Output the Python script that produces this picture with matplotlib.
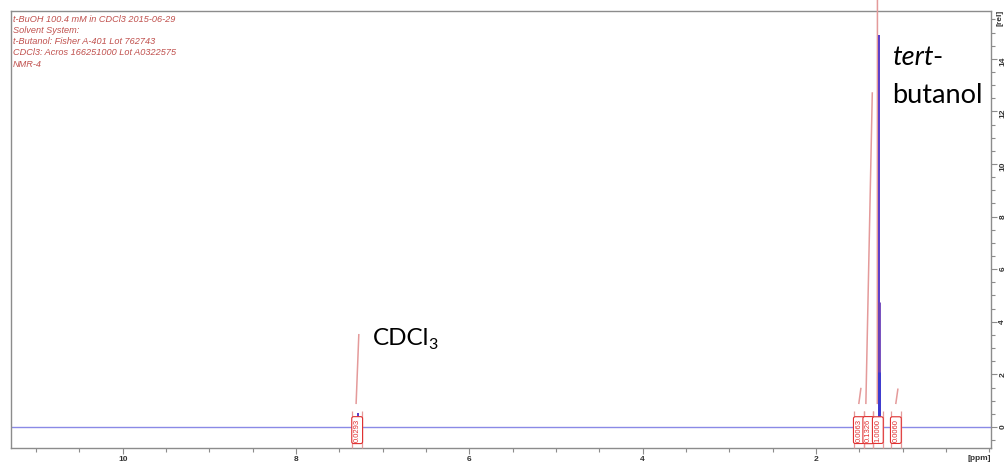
import matplotlib.pyplot as plt
from matplotlib.ticker import MultipleLocator

# header lines printed in the top-left corner
header_lines = [
    't-BuOH 100.4 mM in CDCl3 2015-06-29',
    'Solvent System:',
    't-Butanol: Fisher A-401 Lot 762743',
    'CDCl3: Acros 166251000 Lot A0322575',
    'NMR-4',
]

# peaks (ppm, relative intensity)
peak_ppm = [7.28, 1.275]
peak_height = [0.53, 14.9]

# integrals: label position, value, trace start/end (ppm)
integral_ppm = [7.295, 1.505, 1.396, 1.286, 1.078]
integral_value = [0.0293, 0.0063, 0.1326, 1.0000, 0.0060]
integral_start = [7.307, 1.505, 1.424, 1.292, 1.078]
integral_end = [7.276, 1.482, 1.350, 1.284, 1.055]
integral_offset = 0.9
integral_scale = 89

W, H = 1006, 463
fig = plt.figure(figsize=(W / 100, H / 100), dpi=100)
ax = fig.add_axes([11 / W, 1 - 448 / H, (991 - 11) / W, (448 - 11) / H])

ax.set_xlim(11.29, -0.02)
ax.set_ylim(-0.8, 15.82)

blue = '#3a3ad0'
pink = '#e49a9a'
red = '#e03030'

ax.axhline(0, color='#8a8ae6', lw=1, zorder=2)

# integral traces
for s, e, v in zip(integral_start, integral_end, integral_value):
    ax.plot([s, e], [integral_offset, integral_offset + v * integral_scale],
            color=pink, lw=1.1, clip_on=False, zorder=3)

# peaks
ax.vlines(peak_ppm, 0, peak_height, color='#5a3cc8', lw=1.4, zorder=4)
ax.vlines(peak_ppm, 0, [h * 0.32 for h in peak_height], color='#6a40b8', lw=2.0, zorder=4)
ax.vlines(peak_ppm, 0, [h * 0.14 for h in peak_height], color=blue, lw=2.0, zorder=4)

# integral labels with region legs
for p, v in zip(integral_ppm, integral_value):
    ax.vlines([p + 0.055, p - 0.055], -0.8, 0.6, color=pink, lw=0.9, clip_on=False, zorder=3)
    ax.text(p, -0.12, f'{v:.4f}', rotation=90, ha='center', va='center',
            fontsize=5.5, color=red, family='Liberation Sans', zorder=6,
            bbox=dict(boxstyle='round,pad=0.25,rounding_size=0.25', fc='white', ec=red, lw=0.8))

# axes styling
for side in ['left', 'top', 'bottom', 'right']:
    ax.spines[side].set_color('#8c8c8c')
    ax.spines[side].set_linewidth(1)

ax.yaxis.tick_right()
ax.xaxis.set_major_locator(MultipleLocator(2))
ax.xaxis.set_minor_locator(MultipleLocator(0.5))
ax.yaxis.set_major_locator(MultipleLocator(2))
ax.yaxis.set_minor_locator(MultipleLocator(0.5))
ax.set_xticks([10, 8, 6, 4, 2])
ax.tick_params(axis='both', which='both', direction='out', color='#8c8c8c', width=0.8)
ax.tick_params(axis='both', which='major', length=4)
ax.tick_params(axis='both', which='minor', length=3)
ax.tick_params(axis='x', pad=2, labelsize=6, labelcolor='#333333')
ax.tick_params(axis='y', pad=2, labelsize=6, labelcolor='#333333', labelrotation=90)
for lab in ax.get_xticklabels() + ax.get_yticklabels():
    lab.set_fontweight('bold')
    lab.set_family('Liberation Sans')

fig.text(979 / W, 1 - 458 / H, '[ppm]', ha='center', va='center', fontsize=6,
         fontweight='bold', color='#333333', family='Liberation Sans')
fig.text(1000 / W, 1 - 18 / H, '[rel]', ha='center', va='center', fontsize=6, rotation=90,
         fontweight='bold', color='#333333', family='Liberation Sans')

# header
for i, line in enumerate(header_lines):
    fig.text(13 / W, 1 - (19 + i * 11.3) / H, line, ha='left', va='center', fontsize=6.6,
             style='italic', color='#c0504d', family='Liberation Sans')

# annotations
fig.text(373 / W, 1 - 345 / H, 'CDCl', ha='left', va='baseline', fontsize=17.5,
         family='Lato', color='black')
fig.text(428 / W, 1 - 349 / H, '3', ha='left', va='baseline', fontsize=11.5,
         family='Lato', color='black')
fig.text(892 / W, 1 - 65 / H, 'tert', ha='left', va='baseline', fontsize=19.5,
         family='Lato', style='italic', color='black')
fig.text(932 / W, 1 - 65 / H, '-', ha='left', va='baseline', fontsize=19.5,
         family='Lato', color='black')
fig.text(892 / W, 1 - 103 / H, 'butanol', ha='left', va='baseline', fontsize=19.5,
         family='Lato', color='black')

fig.savefig('out.png', dpi=100)
